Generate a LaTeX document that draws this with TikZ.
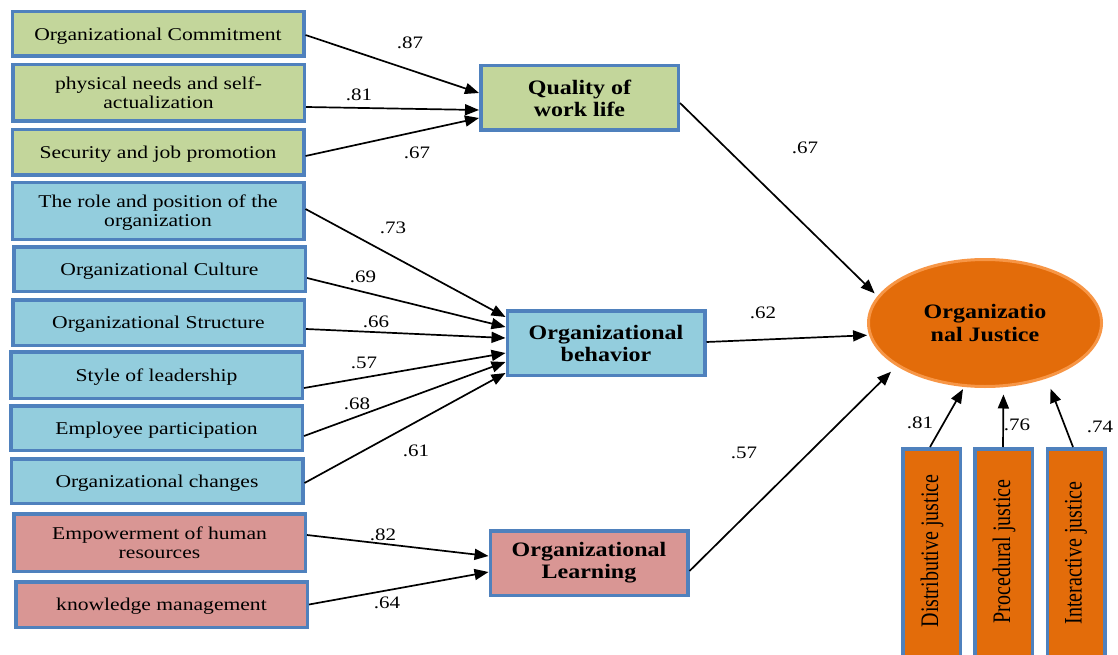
\documentclass[tikz,border=0pt]{standalone}
\usepackage{fontspec}
\usepackage{graphicx}
\setmainfont{Liberation Serif}
\newfontfamily\wfont[FakeStretch=1.2]{Liberation Serif}
\newfontfamily\bfont[FakeStretch=1.17]{Liberation Serif}
\usetikzlibrary{arrows.meta,shapes.geometric}
\definecolor{gfill}{HTML}{C3D69B}
\definecolor{bfill}{HTML}{93CDDD}
\definecolor{pfill}{HTML}{D99694}
\definecolor{ofill}{HTML}{E36C0A}
\definecolor{bordc}{HTML}{4F81BD}
\definecolor{ellb}{HTML}{F79646}
\begin{document}
\begin{tikzpicture}[x=1pt,y=-1pt,
  box/.style={draw=bordc, line width=3.5pt, inner sep=0pt, align=center, text=black,
    font=\wfont\fontsize{18}{19.3}\selectfont, minimum width=291.5pt, text depth=0pt},
  gbox/.style={box, fill=gfill},
  bbox/.style={box, fill=bfill},
  pbox/.style={box, fill=pfill},
  lat/.style={draw=bordc, line width=3.5pt, inner sep=0pt, align=center, text=black,
    font=\bfont\bfseries\fontsize{20.5}{22}\selectfont, minimum width=197.5pt, minimum height=64.5pt},
  vbox/.style={draw=bordc, line width=3.5pt, fill=ofill, inner sep=0pt, minimum width=57.5pt, minimum height=221pt},
  vtext/.style={rotate=90, inner sep=0pt, text=black, font=\fontsize{20}{22}\selectfont},
  arr/.style={line width=1.7pt, draw=black, -{Triangle[length=14pt,width=11pt]}},
  lbl/.style={inner sep=0pt, text=black, font=\wfont\fontsize{17.5}{19}\selectfont}
]
\useasboundingbox (0,0) rectangle (1118,655);

% left indicator boxes
\node[gbox, minimum height=44.5pt] (oc) at (158,34) {Organizational Commitment};
\node[gbox, minimum height=56.5pt] (phys) at (158.5,93) {physical needs and self-\\actualization};
\node[gbox, minimum height=45.5pt] (sec) at (158,152.5) {Security and job promotion};
\node[bbox, minimum height=56.5pt] (role) at (158,211) {The role and position of the\\organization};
\node[bbox, minimum height=44.5pt] (cult) at (159.5,269) {Organizational Culture};
\node[bbox, minimum height=45.5pt] (struc) at (158.5,322.5) {Organizational Structure};
\node[bbox, minimum height=46.5pt] (style) at (156.5,375) {Style of leadership};
\node[bbox, minimum height=44.5pt] (emp) at (156.5,428) {Employee participation};
\node[bbox, minimum height=44.5pt] (chg) at (157,481) {Organizational changes};
\node[pbox, minimum height=57.5pt] (empw) at (159.5,542.5) {Empowerment of human\\resources};
\node[pbox, minimum height=45.5pt] (km) at (161.5,604.5) {knowledge management};

% latent boxes
\node[lat, fill=gfill] (qwl) at (579.5,98) {Quality of\\work life};
\node[lat, fill=bfill] (ob) at (606,343) {Organizational\\behavior};
\node[lat, fill=pfill] (ol) at (589,563) {Organizational\\Learning};

% outcome ellipse
\node[ellipse, draw=ellb, fill=ofill, line width=3pt, inner sep=0pt,
  minimum width=233pt, minimum height=127pt, align=center, text=black,
  font=\bfont\bfseries\fontsize{20.5}{22.5}\selectfont] (ej) at (985,323) {Organizatio\\nal Justice};

% vertical boxes
\node[vbox] (dj) at (931.5,559.25) {};
\node[vbox] (pj) at (1003.5,559.25) {};
\node[vbox] (ij) at (1076,559.25) {};
\node[vtext] (djt) at (932,551) {\scalebox{1}[1.26]{Distributive justice}};
\node[vtext] (pjt) at (1004,551.5) {\scalebox{1}[1.26]{Procedural justice}};
\node[vtext] (ijt) at (1076,553) {\scalebox{1}[1.26]{Interactive justice}};

% arrows
\draw[arr] ([yshift=-1pt]oc.east) -- ([yshift=5pt]qwl.west);
\draw[arr] ([yshift=-14pt]phys.east) -- ([yshift=-12pt]qwl.west);
\draw[arr] ([yshift=-3.5pt]sec.east) -- ([yshift=-20pt]qwl.west);

\draw[arr] ([yshift=2pt]role.east) -- ([yshift=26pt]ob.west);
\draw[arr] ([yshift=-9pt]cult.east) -- ([yshift=16pt]ob.west);
\draw[arr] ([yshift=-6.5pt]struc.east) -- ([yshift=5pt]ob.west);
\draw[arr] ([yshift=-13pt]style.east) -- ([yshift=-10pt]ob.west);
\draw[arr] ([yshift=-8pt]emp.east) -- ([yshift=-19pt]ob.west);
\draw[arr] ([yshift=-2pt]chg.east) -- ([yshift=-30pt]ob.west);

\draw[arr] ([yshift=7.5pt]empw.east) -- ([yshift=7pt]ol.west);
\draw[arr] (km.east) -- ([yshift=-9pt]ol.west);

\draw[arr, shorten >=4pt] ([yshift=-5pt]qwl.east) -- (ej.166);
\draw[arr, shorten >=2pt] ([yshift=1pt]ob.east) -- (ej.186);
\draw[arr, shorten >=8pt] ([yshift=-8pt]ol.east) -- (ej.206);

\draw[arr, shorten >=2.5pt] ([xshift=-1.5pt]dj.north) -- (ej.252);
\draw[arr, shorten >=6.5pt] ([xshift=-0.5pt]pj.north) -- (ej.south -| pj.north);
\draw[arr, shorten >=11pt] ([xshift=-3pt]ij.north) -- (ej.318);

% coefficient labels
\node[lbl] (l1) at (410,43) {.87};
\node[lbl] (l2) at (359,95) {.81};
\node[lbl] (l3) at (417,153) {.67};
\node[lbl] (l4) at (805,148) {.67};
\node[lbl] (l5) at (393,228) {.73};
\node[lbl] (l6) at (363,277) {.69};
\node[lbl] (l7) at (376,322) {.66};
\node[lbl] (l8) at (364,363) {.57};
\node[lbl] (l9) at (357,404) {.68};
\node[lbl] (l10) at (416,451) {.61};
\node[lbl] (l11) at (763,313) {.62};
\node[lbl] (l12) at (383,535) {.82};
\node[lbl] (l13) at (387,603) {.64};
\node[lbl] (l14) at (744,453) {.57};
\node[lbl] (l15) at (920,423) {.81};
\node[lbl] (l16) at (1017,425) {.76};
\node[lbl] (l17) at (1100,427) {.74};
\end{tikzpicture}
\end{document}
